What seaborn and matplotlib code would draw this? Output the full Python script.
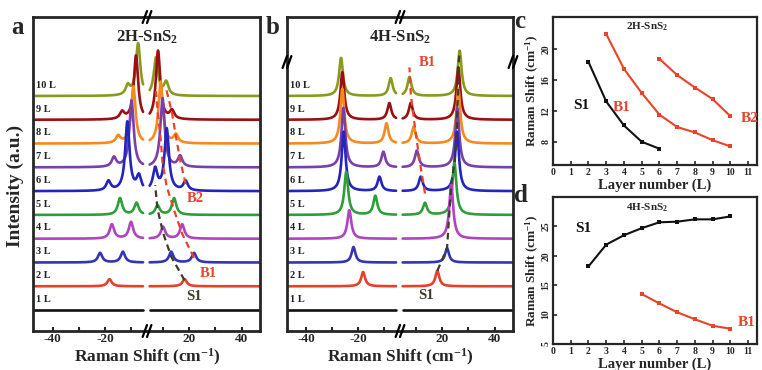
import numpy as np
import pandas as pd
import matplotlib
matplotlib.use("Agg")
import matplotlib.pyplot as plt
from matplotlib.lines import Line2D
import seaborn as sns

sns.set_style("ticks")
plt.rcParams['font.family'] = ['Liberation Serif', 'DejaVu Serif']
plt.rcParams['font.weight'] = 'bold'
plt.rcParams['mathtext.fontset'] = 'custom'
plt.rcParams['mathtext.rm'] = 'Liberation Serif:bold'
plt.rcParams['mathtext.bf'] = 'Liberation Serif:bold'
plt.rcParams['mathtext.it'] = 'Liberation Serif:bold:italic'

# ---------------- data ----------------
layers = [1, 2, 3, 4, 5, 6, 7, 8, 9, 10]
layer_labels = ["1 L", "2 L", "3 L", "4 L", "5 L", "6 L", "7 L", "8 L", "9 L", "10 L"]
layer_colors = ["#111111", "#e8402a", "#3434b4", "#b044c0", "#2f9e3a",
                "#2424c0", "#7b3fa8", "#f58a1f", "#9b1010", "#8a9a1e"]

# 2H-SnS2 mode positions (cm-1) vs layer number (panel c)
s1_2h_layers = [2, 3, 4, 5, 6]
s1_2h = [18.3, 13.2, 10.1, 8.0, 7.1]
b1_2h_layers = [3, 4, 5, 6, 7, 8, 9, 10]
b1_2h = [21.9, 17.4, 14.3, 11.5, 9.9, 9.2, 8.2, 7.4]
b2_2h_layers = [6, 7, 8, 9, 10]
b2_2h = [18.7, 16.6, 15.0, 13.5, 11.3]
# peak heights in spectra (anti-Stokes side, Stokes side)
s1_2h_h_as = [0.30, 0.45, 0.70, 0.50, 0.60]
s1_2h_h_s = [0.30, 0.45, 0.50, 0.40, 0.90]
b1_2h_h_as = [0.40, 0.60, 0.70, 2.90, 2.80, 2.40, 2.70, 2.20]
b1_2h_h_s = [0.40, 0.60, 0.70, 2.60, 2.90, 2.60, 2.90, 1.60]
b2_2h_h_as = [0.40, 0.40, 0.30, 0.30, 0.40]
b2_2h_h_s = [0.40, 0.45, 0.35, 0.35, 0.55]

# 4H-SnS2 mode positions (panel d)
s1_4h_layers = [2, 3, 4, 5, 6, 7, 8, 9, 10]
s1_4h = [18.2, 21.9, 23.5, 24.7, 25.7, 25.8, 26.2, 26.2, 26.7]
b1_4h_layers = [5, 6, 7, 8, 9, 10]
b1_4h = [13.5, 11.9, 10.4, 9.2, 8.1, 7.6]
s1_4h_h_as = [0.60, 0.65, 1.20, 1.80, 2.50, 2.50, 2.30, 2.00, 1.60]
s1_4h_h_s = [0.65, 0.60, 2.30, 2.20, 2.50, 2.50, 2.30, 2.20, 1.90]
b1_4h_h_as = [0.80, 0.60, 0.65, 0.85, 0.70, 0.75]
b1_4h_h_s = [0.50, 0.60, 0.70, 0.70, 0.70, 0.80]

RED = "#e8432b"
DARK = "#3c3c28"

W, H = 762, 370
fig = plt.figure(figsize=(W / 100, H / 100), dpi=100)


def rect(x0, y0, x1, y1):
    return [x0 / W, 1 - y1 / H, (x1 - x0) / W, (y1 - y0) / H]


SPACING = 1.0
YLIM = (-0.88, 12.32)
XL = (-47.5, -4.0)
XR = (4.0, 47.0)


def peaks_for(layer, mode_sets):
    out = []
    for lays, pos, has, hs in mode_sets:
        if layer in lays:
            i = lays.index(layer)
            out.append((pos[i], has[i], hs[i]))
    return out


def draw_spectra(axl, axr, mode_sets, gamma):
    xl = np.arange(XL[0], XL[1] - 1.4, 0.1)
    xr = np.arange(XR[0] + 1.0, XR[1], 0.1)
    for layer in layers[::-1]:
        off = (layer - 1) * SPACING
        pk = peaks_for(layer, mode_sets)
        yl = np.full_like(xl, off)
        yr = np.full_like(xr, off)
        for p, ha, hs in pk:
            yl += ha * gamma ** 2 / ((xl + p) ** 2 + gamma ** 2)
            yr += hs * gamma ** 2 / ((xr - p) ** 2 + gamma ** 2)
        c = layer_colors[layer - 1]
        sns.lineplot(x=xl, y=yl, ax=axl, color=c, lw=1.9, estimator=None, sort=False, legend=False)
        sns.lineplot(x=xr, y=yr, ax=axr, color=c, lw=1.9, estimator=None, sort=False, legend=False)
        axl.text(-46.3, off + 0.45, layer_labels[layer - 1], fontsize=7.5, fontweight='bold',
                 color='#222222', va='center', ha='left')


def style_pair(axl, axr):
    for ax in (axl, axr):
        ax.set_ylim(*YLIM)
        ax.set_yticks([])
        ax.set_ylabel("")
        ax.set_xlabel("")
        for s in ax.spines.values():
            s.set_linewidth(2)
        ax.tick_params(axis='x', direction='in', length=3, width=1.5, labelsize=9.5, pad=1.5)
    axl.set_xlim(*XL)
    axr.set_xlim(*XR)
    axl.spines['right'].set_visible(False)
    axr.spines['left'].set_visible(False)
    axl.set_xticks([-40, -30, -20, -10])
    axl.set_xticklabels(["-40", "", "-20", ""], fontweight='bold')
    axr.set_xticks([10, 20, 30, 40])
    axr.set_xticklabels(["", "20", "", "40"], fontweight='bold')


def brk(xpx, ypx):
    for dx in (-2.2, 2.2):
        fig.add_artist(Line2D([(xpx + dx - 2.2) / W, (xpx + dx + 2.2) / W],
                              [1 - (ypx + 6) / H, 1 - (ypx - 6) / H],
                              color='k', lw=1.6, transform=fig.transFigure))


# ---------------- panel a ----------------
axa_l = fig.add_axes(rect(33, 17, 147, 331))
axa_r = fig.add_axes(rect(147, 17, 260, 331))
modes_2h = [(s1_2h_layers, s1_2h, s1_2h_h_as, s1_2h_h_s),
            (b1_2h_layers, b1_2h, b1_2h_h_as, b1_2h_h_s),
            (b2_2h_layers, b2_2h, b2_2h_h_as, b2_2h_h_s)]
draw_spectra(axa_l, axa_r, modes_2h, 1.0)
style_pair(axa_l, axa_r)
# guide lines
sns.lineplot(x=s1_2h, y=[(l - 1) * SPACING + 0.25 for l in s1_2h_layers], ax=axa_r,
             color=DARK, lw=1.6, ls=(0, (3, 2)), estimator=None, sort=False, legend=False)
sns.lineplot(x=b1_2h, y=[(l - 1) * SPACING + 0.2 for l in b1_2h_layers], ax=axa_r,
             color=RED, lw=1.6, ls=(0, (3, 2)), estimator=None, sort=False, legend=False)
sns.lineplot(x=b2_2h, y=[(l - 1) * SPACING + 0.3 for l in b2_2h_layers], ax=axa_r,
             color=RED, lw=1.6, ls=(0, (3, 2)), estimator=None, sort=False, legend=False)
axa_r.text(27.2, 1.55, "B1", color=RED, fontsize=10.5, fontweight='bold', ha='center', va='center')
axa_r.text(22.5, 4.7, "B2", color=RED, fontsize=10.5, fontweight='bold', ha='center', va='center')
axa_r.text(22.0, 0.55, "S1", color=DARK, fontsize=10.5, fontweight='bold', ha='center', va='center')
fig.text(147 / W, 1 - 37 / H, "2H-SnS$_\\mathbf{2}$", fontsize=12, fontweight='bold', ha='center', va='center')

# ---------------- panel b ----------------
axb_l = fig.add_axes(rect(287, 17, 400, 331))
axb_r = fig.add_axes(rect(400, 17, 513, 331))
modes_4h = [(s1_4h_layers, s1_4h, s1_4h_h_as, s1_4h_h_s),
            (b1_4h_layers, b1_4h, b1_4h_h_as, b1_4h_h_s)]
draw_spectra(axb_l, axb_r, modes_4h, 0.9)
style_pair(axb_l, axb_r)
sns.lineplot(x=s1_4h, y=[(l - 1) * SPACING + h for l, h in zip(s1_4h_layers, s1_4h_h_s)], ax=axb_r,
             color=DARK, lw=1.6, ls=(0, (3, 2)), estimator=None, sort=False, legend=False)
sns.lineplot(x=b1_4h, y=[(l - 1) * SPACING + h + 0.4 for l, h in zip(b1_4h_layers, b1_4h_h_s)], ax=axb_r,
             color=RED, lw=1.6, ls=(0, (3, 2)), estimator=None, sort=False, legend=False)
axb_r.text(14.5, 10.4, "B1", color=RED, fontsize=10.5, fontweight='bold', ha='center', va='center')
axb_r.text(14.0, 0.6, "S1", color=DARK, fontsize=10.5, fontweight='bold', ha='center', va='center')
fig.text(400 / W, 1 - 37 / H, "4H-SnS$_\\mathbf{2}$", fontsize=12, fontweight='bold', ha='center', va='center')

for xp in (147, 400):
    brk(xp, 17)
    brk(xp, 331)
brk(287, 62)
brk(513, 62)

fig.text(15 / W, 1 - 186 / H, "Intensity (a.u.)", rotation=90, fontsize=14, fontweight='bold',
         ha='center', va='center')
fig.text(147 / W, 1 - 368 / H, "Raman Shift (cm$^{\\mathbf{-1}}$)", fontsize=12.5, fontweight='bold',
         ha='center', va='bottom')
fig.text(400 / W, 1 - 368 / H, "Raman Shift (cm$^{\\mathbf{-1}}$)", fontsize=12.5, fontweight='bold',
         ha='center', va='bottom')

# ---------------- panels c, d ----------------
axc = fig.add_axes(rect(553, 17, 757, 165))
axd = fig.add_axes(rect(553, 197, 757, 344))

df_c = pd.concat([
    pd.DataFrame({"layer": s1_2h_layers, "shift": s1_2h, "mode": "S1"}),
    pd.DataFrame({"layer": b1_2h_layers, "shift": b1_2h, "mode": "B1"}),
    pd.DataFrame({"layer": b2_2h_layers, "shift": b2_2h, "mode": "B2"}),
])
df_d = pd.concat([
    pd.DataFrame({"layer": s1_4h_layers, "shift": s1_4h, "mode": "S1"}),
    pd.DataFrame({"layer": b1_4h_layers, "shift": b1_4h, "mode": "B1"}),
])
pal = {"S1": "#111111", "B1": RED, "B2": RED}
for ax, df in ((axc, df_c), (axd, df_d)):
    sns.lineplot(data=df, x="layer", y="shift", hue="mode", palette=pal, ax=ax, marker='s',
                 markersize=3.5, markeredgewidth=0, lw=1.5, estimator=None, sort=False, legend=False)
    ax.set_xlim(0, 11.5)
    ax.set_xticks(range(0, 12))
    ax.set_xlabel("Layer number (L)", fontsize=10.5, fontweight='bold', labelpad=1)
    ax.set_ylabel("Raman Shift (cm$^{\\mathbf{-1}}$)", fontsize=9.5, fontweight='bold', labelpad=0)
    ax.tick_params(direction='in', length=3, width=1.2, labelsize=7, pad=2)
    for s in ax.spines.values():
        s.set_linewidth(1.6)

axc.set_ylim(5, 24.1)
axc.set_yticks([8, 12, 16, 20])
axd.set_ylim(5, 30)
axd.set_yticks([5, 10, 15, 20, 25])
for ax in (axc, axd):
    for lab in ax.get_yticklabels():
        lab.set_rotation(90)
        lab.set_va('center')
        lab.set_fontweight('bold')
    for lab in ax.get_xticklabels():
        lab.set_fontweight('bold')

axc.text(5.3, 22.8, "2H-SnS$_\\mathbf{2}$", fontsize=8, fontweight='bold', ha='center', va='center')
axc.text(1.6, 12.7, "S1", fontsize=11, fontweight='bold', ha='center', va='center', color='#111111')
axc.text(3.9, 12.4, "B1", fontsize=11, fontweight='bold', ha='center', va='center', color=RED)
axc.text(11.1, 11.0, "B2", fontsize=11, fontweight='bold', ha='center', va='center', color=RED)
axd.text(5.3, 28.1, "4H-SnS$_\\mathbf{2}$", fontsize=8, fontweight='bold', ha='center', va='center')
axd.text(1.7, 24.7, "S1", fontsize=11, fontweight='bold', ha='center', va='center', color='#111111')
axd.text(10.9, 8.7, "B1", fontsize=11, fontweight='bold', ha='center', va='center', color=RED)

# panel letters
for t, xp, yp in (("a", 18, 28), ("b", 273, 27), ("c", 520, 22), ("d", 521, 196)):
    fig.text(xp / W, 1 - yp / H, t, fontsize=18, fontweight='bold', ha='center', va='center')

fig.savefig("out.png", dpi=100)
